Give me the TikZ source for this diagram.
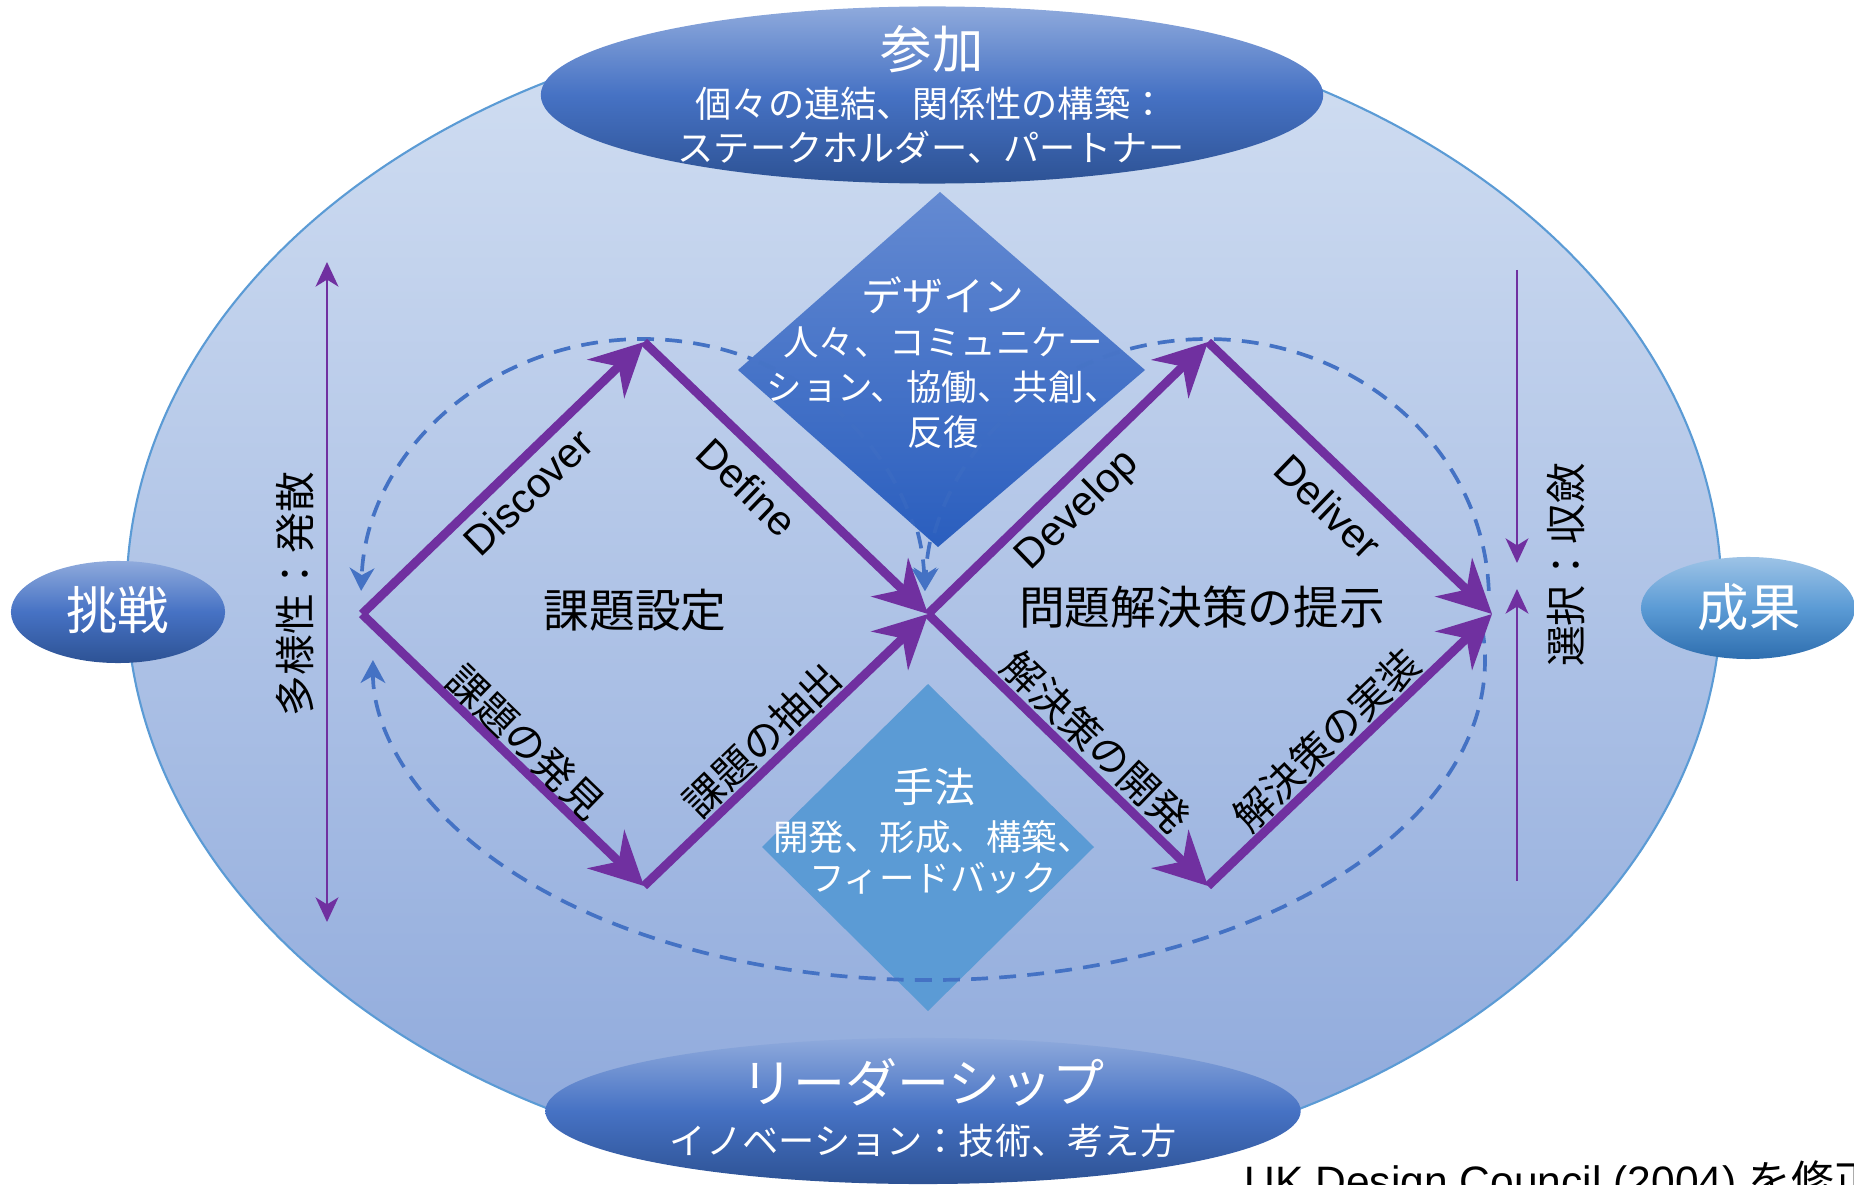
\documentclass[tikz,border=0pt]{standalone}
\usepackage{fontspec}
\setmainfont{Liberation Sans}
\newfontfamily\jp{Noto Sans CJK JP}
\usetikzlibrary{arrows.meta,shapes.geometric}

\definecolor{pur}{RGB}{112,48,160}
\definecolor{dashb}{RGB}{68,114,196}
\definecolor{bgtop}{RGB}{210,223,242}
\definecolor{bgbot}{RGB}{141,168,219}
\definecolor{bgline}{RGB}{91,155,213}
\definecolor{eltop}{RGB}{143,170,220}
\definecolor{elmid}{RGB}{70,114,196}
\definecolor{elbot}{RGB}{45,82,148}
\definecolor{ortop}{RGB}{157,195,230}
\definecolor{ormid}{RGB}{91,155,213}
\definecolor{orbot}{RGB}{46,110,175}
\definecolor{dtop}{RGB}{100,138,210}
\definecolor{dbot}{RGB}{42,94,190}
\definecolor{dlow}{RGB}{91,155,213}

\newcommand\fsz[2]{\fontsize{#1}{#2}\selectfont}

\begin{document}
\begin{tikzpicture}[x=0.01cm, y=-0.01cm,
  blob/.style={ellipse, inner sep=0pt, top color=eltop, bottom color=elbot, middle color=elmid},
  outblob/.style={ellipse, inner sep=0pt, top color=ortop, bottom color=orbot, middle color=ormid},
  wtitle/.style={text=white, inner sep=0pt, font=\jp\fsz{14.6pt}{17pt}},
  wbody/.style={text=white, inner sep=0pt, align=center, font=\jp\fsz{10.3pt}{12.5pt}},
  dtitle/.style={text=white, inner sep=0pt, font=\jp\fsz{11.6pt}{14pt}},
  dbody/.style={text=white, inner sep=0pt, align=center, font=\jp\fsz{10.1pt}{12.8pt}},
  btext/.style={text=black, inner sep=0pt, font=\jp\fsz{13pt}{15pt}},
  elab/.style={text=black, inner sep=0pt, font=\fsz{11.8pt}{13pt}},
  jlab/.style={text=black, inner sep=0pt, font=\jp\fsz{11.4pt}{13pt}},
  vlab/.style={text=black, inner sep=0pt, rotate=90, font=\jp\fsz{11.6pt}{14pt}},
  flow/.style={draw=pur, line width=2.5pt, -{Stealth[length=15pt,width=15pt,inset=5pt]}},
  guide/.style={draw=pur, line width=0.6pt},
  iter/.style={draw=dashb, line width=1.05pt, dash pattern=on 4.8pt off 3.2pt},
  gtip/.tip={Stealth[length=7pt,width=6.5pt,inset=2pt]},
  dtip/.tip={Stealth[length=6.5pt,width=7pt,inset=2pt]}]

\useasboundingbox (0,0) rectangle (1854,1185);

% background ellipse
\node[ellipse, inner sep=0pt, minimum width=15.94cm, minimum height=11.64cm,
      draw=bgline, line width=0.6pt, top color=bgtop, bottom color=bgbot] (bg) at (924,595) {};

% outer ellipses
\node[blob, minimum width=7.82cm, minimum height=1.77cm] (part) at (932,95) {};
\node[blob, minimum width=7.55cm, minimum height=1.46cm] (lead) at (923,1111) {};
\node[blob, minimum width=2.14cm, minimum height=1.02cm] (chal) at (118,612) {};
\node[outblob, minimum width=2.14cm, minimum height=1.02cm] (outc) at (1748,608) {};

% vertices
\coordinate (L) at (362,614);
\coordinate (T1) at (644,342);
\coordinate (B1) at (644,886);
\coordinate (M) at (928,614);
\coordinate (T2) at (1208,342);
\coordinate (B2) at (1208,886);
\coordinate (R) at (1492,614);

% dashed iteration arcs (upper)
\coordinate (ulS) at (924.8,590.9);
\coordinate (urS) at (1488.8,590.9);
\coordinate (loS) at (1481.9,626.6);
\draw[iter, dtip-dtip] (ulS) arc[start angle=-2, end angle=-178, x radius=282, y radius=261];
\draw[iter, -dtip] (urS) arc[start angle=-2, end angle=-178, x radius=282, y radius=261];

% upper diamond
\coordinate (uT) at (940,192);
\coordinate (uR) at (1145,370);
\coordinate (uB) at (938,547);
\coordinate (uL) at (738,370);
\shade[top color=dtop, bottom color=dbot] (uT) -- (uR) -- (uB) -- (uL) -- cycle;
\begin{scope}
  \clip (uT) -- (uR) -- (uB) -- (uL) -- cycle;
  \draw[iter, opacity=0.3] (ulS) arc[start angle=-2, end angle=-178, x radius=282, y radius=261];
  \draw[iter, opacity=0.3] (urS) arc[start angle=-2, end angle=-178, x radius=282, y radius=261];
\end{scope}

% lower diamond
\coordinate (lT) at (928,684);
\coordinate (lR) at (1094,847);
\coordinate (lB) at (928,1011);
\coordinate (lL) at (762,847);
\fill[dlow] (lT) -- (lR) -- (lB) -- (lL) -- cycle;

% lower dashed arc
\draw[iter, -dtip] (loS) arc[start angle=-6, end angle=180, x radius=556, y radius=320];

% double diamond flows
\draw[flow] (L) -- (T1);
\draw[flow] (T1) -- (M);
\draw[flow] (L) -- (B1);
\draw[flow] (B1) -- (M);
\draw[flow] (M) -- (T2);
\draw[flow] (T2) -- (R);
\draw[flow] (M) -- (B2);
\draw[flow] (B2) -- (R);

% guide lines
\coordinate (gLt) at (327,262);
\coordinate (gLb) at (327,922);
\coordinate (gRt) at (1517,270);
\coordinate (gRm1) at (1517,563);
\coordinate (gRb) at (1517,881);
\coordinate (gRm2) at (1517,589);
\draw[guide, gtip-gtip] (gLt) -- (gLb);
\draw[guide, -gtip] (gRt) -- (gRm1);
\draw[guide, -gtip] (gRb) -- (gRm2);

% texts in ellipses
\node[wtitle] (partT) at (932,49) {参加};
\node[wbody] (partB) at (931,125) {個々の連結、関係性の構築：\\ステークホルダー、パートナー};
\node[wtitle, font=\jp\fsz{14.8pt}{17pt}] (leadT) at (923,1082) {リーダーシップ};
\node[wbody] (leadB) at (923,1141) {イノベーション：技術、考え方};
\node[wtitle] (chalT) at (118,610) {挑戦};
\node[wtitle] (outcT) at (1749,607) {成果};

% diamond texts
\node[dtitle] (desT) at (943,295) {デザイン};
\node[dbody] (desB) at (943,388) {人々、コミュニケー\\ション、協働、共創、\\反復};
\node[dtitle] (metT) at (934,787) {手法};
\node[dbody, font=\jp\fsz{10.1pt}{11.7pt}] (metB) at (933,857.5) {開発、形成、構築、\\フィードバック};

% center texts
\node[btext] (probT) at (635,610) {課題設定};
\node[btext] (solT) at (1202,607) {問題解決策の提示};

% edge labels
\node[elab, rotate=44] (disc) at (528,492) {Discover};
\node[elab, rotate=-44] (defi) at (747,487) {Define};
\node[elab, rotate=44] (deve) at (1078,511) {Develop};
\node[elab, rotate=-44] (deli) at (1328,507) {Deliver};
\node[jlab, rotate=-44] (jdisc) at (526,742) {課題の発見};
\node[jlab, rotate=44] (jdefi) at (762,740) {課題の抽出};
\node[jlab, rotate=-44] (jdeve) at (1096,742) {解決策の開発};
\node[jlab, rotate=44] (jdeli) at (1326,740) {解決策の実装};

% vertical labels
\node[vlab] (div) at (295,594) {多様性：発散};
\node[vlab] (conv) at (1566,565) {選択：収斂};

% source
\node[anchor=base west, inner sep=0pt, font=\fsz{12.1pt}{14pt}] (src) at (1244,1196) {UK Design Council (2004) {\jp を修正}};

\end{tikzpicture}
\end{document}
